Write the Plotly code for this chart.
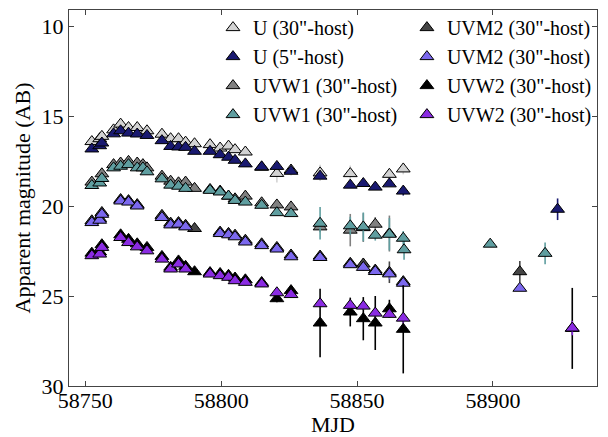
import plotly.graph_objects as go

# ---------------- data ----------------
# U band
u30_mjd = [58752.4, 58755.3, 58756.1, 58760.4, 58763.0, 58765.9, 58769.1, 58772.7, 58778.2, 58781.4,
           58784.3, 58786.9, 58790.2, 58795.9, 58799.6, 58802.7, 58805.1, 58808.9, 58814.9, 58820.5,
           58825.7, 58836.4, 58847.5, 58861.9, 58867.0]
u30_mag = [16.42, 16.26, 16.13, 15.77, 15.45, 15.64, 15.64, 15.82, 16.01, 16.26,
           16.26, 16.45, 16.54, 16.59, 16.78, 16.67, 16.87, 17.00, 17.85, 18.19,
           18.00, 18.16, 18.20, 18.24, 17.94]
u30_err = [0.05, 0.05, 0.05, 0.05, 0.05, 0.05, 0.05, 0.05, 0.05, 0.05,
           0.05, 0.05, 0.05, 0.05, 0.05, 0.05, 0.05, 0.05, 0.15, 0.50,
           0.30, 0.45, 0.45, 0.35, 0.30]

u5_mjd = [58752.4, 58755.3, 58756.1, 58760.4, 58763.0, 58765.9, 58769.1, 58772.7, 58778.2, 58781.4,
          58784.3, 58786.9, 58790.2, 58795.9, 58799.6, 58802.7, 58805.1, 58808.9, 58814.9, 58820.5,
          58825.7, 58836.4, 58847.5, 58852.3, 58856.7, 58861.9, 58867.0, 58923.8]
u5_mag = [16.83, 16.65, 16.50, 15.99, 15.82, 15.95, 16.00, 16.08, 16.37, 16.69,
          16.72, 16.74, 16.96, 16.96, 17.15, 17.29, 17.46, 17.66, 17.82, 17.80,
          18.07, 18.34, 18.84, 18.75, 18.95, 18.77, 19.17, 20.18]
u5_err = [0.05, 0.05, 0.05, 0.05, 0.05, 0.05, 0.05, 0.05, 0.05, 0.05,
          0.05, 0.05, 0.05, 0.05, 0.05, 0.05, 0.05, 0.05, 0.05, 0.08,
          0.08, 0.10, 0.10, 0.10, 0.10, 0.12, 0.25, 0.60]

# UVW1 band
w1a_mjd = [58752.4, 58756.1, 58760.4, 58763.0, 58765.9, 58769.1, 58771.2, 58772.7, 58778.2, 58781.4,
           58784.3, 58786.9, 58790.2, 58795.9, 58799.6, 58802.7, 58805.1, 58808.9, 58814.9, 58820.5,
           58825.7, 58836.4, 58847.5, 58852.3, 58856.7, 58861.9]
w1a_mag = [18.67, 18.21, 17.70, 17.61, 17.52, 17.61, 17.70, 17.88, 18.34, 18.62,
           18.71, 18.67, 19.02, 19.08, 19.17, 19.45, 19.60, 19.45, 19.82, 19.94,
           20.05, 21.16, 21.34, 21.20, 21.01, 21.53]
w1a_err = [0.05, 0.05, 0.05, 0.05, 0.05, 0.05, 0.05, 0.05, 0.05, 0.05,
           0.05, 0.05, 0.05, 0.05, 0.05, 0.05, 0.05, 0.05, 0.08, 0.10,
           0.10, 0.30, 0.90, 0.80, 0.40, 1.00]

w1b_mjd = [58752.4, 58755.3, 58756.1, 58760.4, 58763.0, 58765.9, 58769.1, 58771.2, 58772.7, 58778.2,
           58781.4, 58784.3, 58786.9, 58795.9, 58799.6, 58802.7, 58805.1, 58808.9, 58814.9, 58820.5,
           58825.7, 58836.4, 58847.5, 58852.3, 58856.7, 58861.9, 58867.0, 58867.3, 58899.0, 58919.2]
w1b_mag = [18.86, 18.72, 18.47, 17.88, 17.79, 17.70, 17.88, 17.88, 18.10, 18.49,
           18.84, 18.90, 19.02, 19.13, 19.22, 19.45, 19.69, 19.78, 19.96, 20.37,
           20.42, 20.96, 21.10, 21.16, 21.62, 21.57, 21.79, 22.43, 22.12, 22.63]
w1b_err = [0.05, 0.05, 0.05, 0.05, 0.05, 0.05, 0.05, 0.05, 0.05, 0.05,
           0.05, 0.05, 0.05, 0.05, 0.05, 0.05, 0.05, 0.05, 0.08, 0.10,
           0.10, 0.90, 0.50, 0.80, 0.30, 0.90, 0.40, 0.55, 0.10, 0.60]

# UVM2 band
m2a_mjd = [58752.4, 58755.3, 58756.1, 58763.0, 58765.9, 58769.1, 58778.2, 58781.4, 58784.3, 58786.9,
           58790.2, 58799.6, 58802.7, 58805.1, 58808.9, 58814.9, 58820.5, 58825.7, 58836.4, 58847.5,
           58852.3, 58856.7, 58861.9, 58867.0, 58909.9]
m2a_mag = [20.82, 20.70, 20.36, 19.64, 19.70, 19.92, 20.52, 20.95, 20.92, 21.07,
           21.25, 21.45, 21.52, 21.62, 21.90, 22.10, 22.30, 22.72, 22.78, 23.18,
           23.22, 23.56, 23.68, 24.20, 23.65]
m2a_err = [0.05, 0.05, 0.05, 0.05, 0.05, 0.05, 0.05, 0.05, 0.05, 0.05,
           0.05, 0.05, 0.05, 0.05, 0.05, 0.08, 0.10, 0.10, 0.15, 0.15,
           0.30, 0.20, 0.60, 0.30, 0.60]

m2b_mjd = [58752.4, 58755.3, 58756.1, 58763.0, 58765.9, 58769.1, 58778.2, 58781.4, 58784.3, 58786.9,
           58799.6, 58802.7, 58805.1, 58808.9, 58814.9, 58820.5, 58825.7, 58836.4, 58847.5, 58852.3,
           58856.7, 58861.9, 58867.0, 58909.9]
m2b_mag = [20.92, 20.79, 20.46, 19.72, 19.78, 20.00, 20.64, 21.05, 21.01, 21.16,
           21.53, 21.60, 21.71, 22.00, 22.20, 22.39, 22.82, 22.86, 23.26, 23.41,
           23.64, 23.77, 24.29, 24.57]
m2b_err = [0.05, 0.05, 0.05, 0.05, 0.05, 0.05, 0.05, 0.05, 0.05, 0.05,
           0.05, 0.05, 0.05, 0.05, 0.08, 0.10, 0.10, 0.15, 0.15, 0.20,
           0.20, 0.30, 0.30, 0.15]

# UVW2 band
w2a_mjd = [58752.4, 58755.3, 58756.1, 58763.0, 58765.9, 58769.1, 58772.7, 58778.2, 58781.4, 58784.3,
           58786.9, 58790.2, 58795.9, 58799.6, 58802.7, 58805.1, 58808.9, 58814.9, 58820.5, 58825.7,
           58836.4, 58847.5, 58852.3, 58856.7, 58861.9, 58867.0, 58929.2]
w2a_mag = [22.62, 22.55, 22.15, 21.60, 21.85, 22.10, 22.30, 22.80, 23.40, 23.05,
           23.35, 23.65, 23.70, 23.75, 23.85, 24.00, 24.10, 24.25, 25.15, 24.70,
           26.50, 25.89, 26.26, 26.50, 25.71, 26.85, 26.80]
w2a_err = [0.05, 0.05, 0.05, 0.05, 0.05, 0.05, 0.05, 0.05, 0.05, 0.05,
           0.05, 0.05, 0.05, 0.05, 0.05, 0.05, 0.05, 0.10, 0.20, 0.15,
           1.90, 0.80, 1.20, 1.50, 0.50, 2.45, 2.25]

w2b_mjd = [58752.4, 58755.3, 58756.1, 58763.0, 58765.9, 58769.1, 58772.7, 58778.2, 58781.4, 58784.3,
           58786.9, 58795.9, 58799.6, 58802.7, 58805.1, 58808.9, 58814.9, 58820.5, 58825.7, 58836.4,
           58847.5, 58852.3, 58856.7, 58861.9, 58867.0, 58929.2]
w2b_mag = [22.76, 22.67, 22.30, 21.75, 22.03, 22.27, 22.49, 22.95, 23.50, 23.22,
           23.50, 23.78, 23.87, 23.96, 24.15, 24.24, 24.33, 24.82, 24.92, 25.43,
           25.52, 25.56, 25.95, 26.02, 26.23, 26.78]
w2b_err = [0.05, 0.05, 0.05, 0.05, 0.05, 0.05, 0.05, 0.05, 0.05, 0.05,
           0.05, 0.05, 0.05, 0.05, 0.05, 0.05, 0.08, 0.10, 0.10, 0.20,
           0.20, 0.20, 0.20, 0.20, 0.25, 0.40]

x_ticks = [58750, 58800, 58850, 58900]
y_ticks = [10, 15, 20, 25, 30]

series = [
    ("U (30\"-host)",    u30_mjd, u30_mag, u30_err, "#d3d3d3", "legend"),
    ("U (5\"-host)",     u5_mjd,  u5_mag,  u5_err,  "#191970", "legend"),
    ("UVW1 (30\"-host)", w1a_mjd, w1a_mag, w1a_err, "#808080", "legend"),
    ("UVW1 (30\"-host)", w1b_mjd, w1b_mag, w1b_err, "#5f9ea0", "legend"),
    ("UVM2 (30\"-host)", m2a_mjd, m2a_mag, m2a_err, "#454545", "legend2"),
    ("UVM2 (30\"-host)", m2b_mjd, m2b_mag, m2b_err, "#7b68ee", "legend2"),
    ("UVW2 (30\"-host)", w2a_mjd, w2a_mag, w2a_err, "#000000", "legend2"),
    ("UVW2 (30\"-host)", w2b_mjd, w2b_mag, w2b_err, "#8a2be2", "legend2"),
]

FONT = "Liberation Serif"

fig = go.Figure()
for name, x, y, e, col, leg in series:
    fig.add_trace(go.Scatter(
        x=x, y=y, name=name, mode="markers", legend=leg,
        error_y=dict(type="data", array=e, visible=True, color=col, thickness=1.6, width=0),
        marker=dict(symbol="triangle-up", size=12, color=col,
                    line=dict(color="black", width=1)),
    ))

axis_common = dict(
    showline=True, linecolor="#444", linewidth=1, mirror="ticks",
    ticks="inside", ticklen=5, tickwidth=1, tickcolor="#444",
    showgrid=False, zeroline=False, automargin=False,
    tickfont=dict(family=FONT, size=22, color="black"),
    title_font=dict(family=FONT, size=22, color="black"),
)

# the page adds an 8px body margin, so the figure is drawn 8px smaller and offset
fig.update_layout(
    width=600, height=429,
    margin=dict(l=61, r=11, t=0, b=51),
    paper_bgcolor="white", plot_bgcolor="white",
    font=dict(family=FONT, color="black"),
    xaxis=dict(range=[58744.0, 58938.3], tickvals=x_ticks, tickformat="d",
               ticklabelstandoff=-5,
               title=dict(text="MJD", standoff=2), **axis_common),
    yaxis=dict(range=[30, 9.11], tickvals=y_ticks,
               title=dict(text="Apparent magnitude (AB)", standoff=4), **axis_common),
    legend=dict(x=0.2727, y=1.005, xanchor="left", yanchor="top",
                font=dict(family=FONT, size=20, color="black"),
                bgcolor="rgba(0,0,0,0)", tracegroupgap=0, itemwidth=30),
    legend2=dict(x=0.640, y=1.005, xanchor="left", yanchor="top",
                 font=dict(family=FONT, size=20, color="black"),
                 bgcolor="rgba(0,0,0,0)", tracegroupgap=0, itemwidth=30),
)

fig.write_html("out.html")
